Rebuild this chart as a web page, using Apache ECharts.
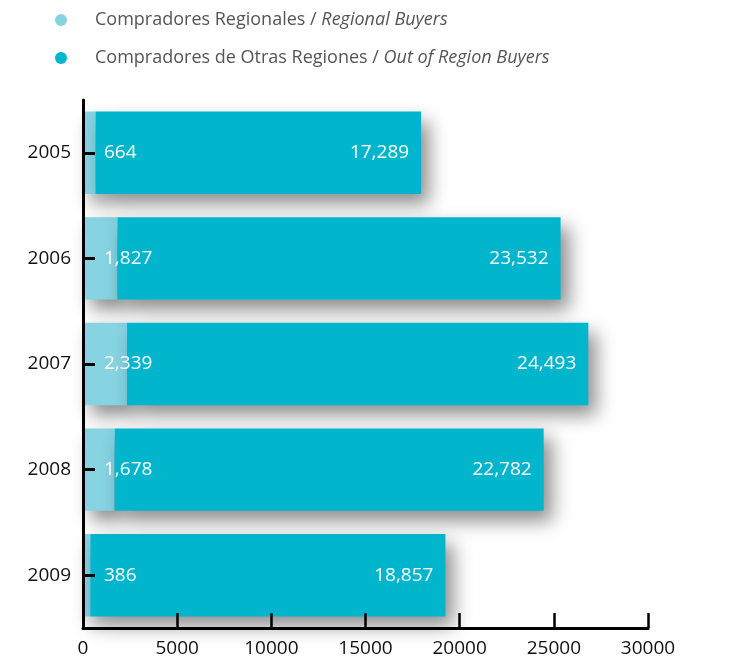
<!DOCTYPE html>
<html><head><meta charset="utf-8">
<script src="https://cdn.jsdelivr.net/npm/echarts@6/dist/echarts.min.js"></script>
<style>html,body{margin:0;padding:0;background:#fff}#c{width:741px;height:661px}</style>
</head><body><div id="c"></div>
<script>
const years = ['2005','2006','2007','2008','2009'];
const regional = [664, 1827, 2339, 1678, 386];
const outOfRegion = [17289, 23532, 24493, 22782, 18857];
const xTicks = [0, 5000, 10000, 15000, 20000, 25000, 30000];

const chart = echarts.init(document.getElementById('c'));
const font = '"Open Sans", "Noto Sans", sans-serif';
const shadow = {shadowColor:'rgba(0,0,0,0.45)', shadowBlur:18, shadowOffsetX:8, shadowOffsetY:10};
chart.setOption({
  animation:false,
  textStyle:{fontFamily:font},
  legend:{
    orient:'vertical', left:50, top:6, itemGap:20, itemWidth:12, itemHeight:12, icon:'circle',
    data:[{name:'regional'},{name:'out'}],
    formatter:function(n){
      return n==='regional' ? '{a|Compradores Regionales / }{b|Regional Buyers}'
                            : '{a|Compradores de Otras Regiones / }{b|Out of Region Buyers}';
    },
    textStyle:{
      fontFamily:font, color:'#555', fontSize:18, padding:[0,0,0,23],
      rich:{a:{fontFamily:font,color:'#555',fontSize:18}, b:{fontFamily:font,color:'#555',fontSize:18,fontStyle:'italic'}}
    }
  },
  grid:{left:83, right:93, top:100, bottom:33, containLabel:false},
  xAxis:{
    type:'value', min:0, max:30000, interval:5000, z:5,
    axisLine:{show:true, lineStyle:{color:'#000', width:3}},
    axisTick:{show:true, inside:true, length:15, lineStyle:{color:'#000', width:2.5}},
    axisLabel:{color:'#111', fontSize:19, fontFamily:font, margin:11,
      formatter:function(v){return xTicks.indexOf(v)>=0 ? String(v) : '';}},
    splitLine:{show:false}
  },
  yAxis:{
    type:'category', data:years, inverse:true, z:5,
    axisLine:{show:true, lineStyle:{color:'#000', width:3}},
    axisTick:{show:true, inside:true, alignWithLabel:true, length:12, lineStyle:{color:'#000', width:3}},
    axisLabel:{color:'#111', fontSize:19, fontFamily:font, margin:12}
  },
  series:[
    {name:'regional', type:'bar', stack:'t', data:regional, barCategoryGap:'22%',
      itemStyle:Object.assign({color:'#86D3E2'}, shadow),
      label:{show:true, position:'insideLeft', distance:21, color:'#fff', fontSize:19, fontFamily:font,
        formatter:function(p){return p.value.toLocaleString('en-US');}}},
    {name:'out', type:'bar', stack:'t', data:outOfRegion, barCategoryGap:'22%',
      itemStyle:Object.assign({color:'#00B5CC'}, shadow),
      label:{show:true, position:'insideRight', distance:12, color:'#fff', fontSize:19, fontFamily:font,
        formatter:function(p){return p.value.toLocaleString('en-US');}}}
  ]
});
</script></body></html>
